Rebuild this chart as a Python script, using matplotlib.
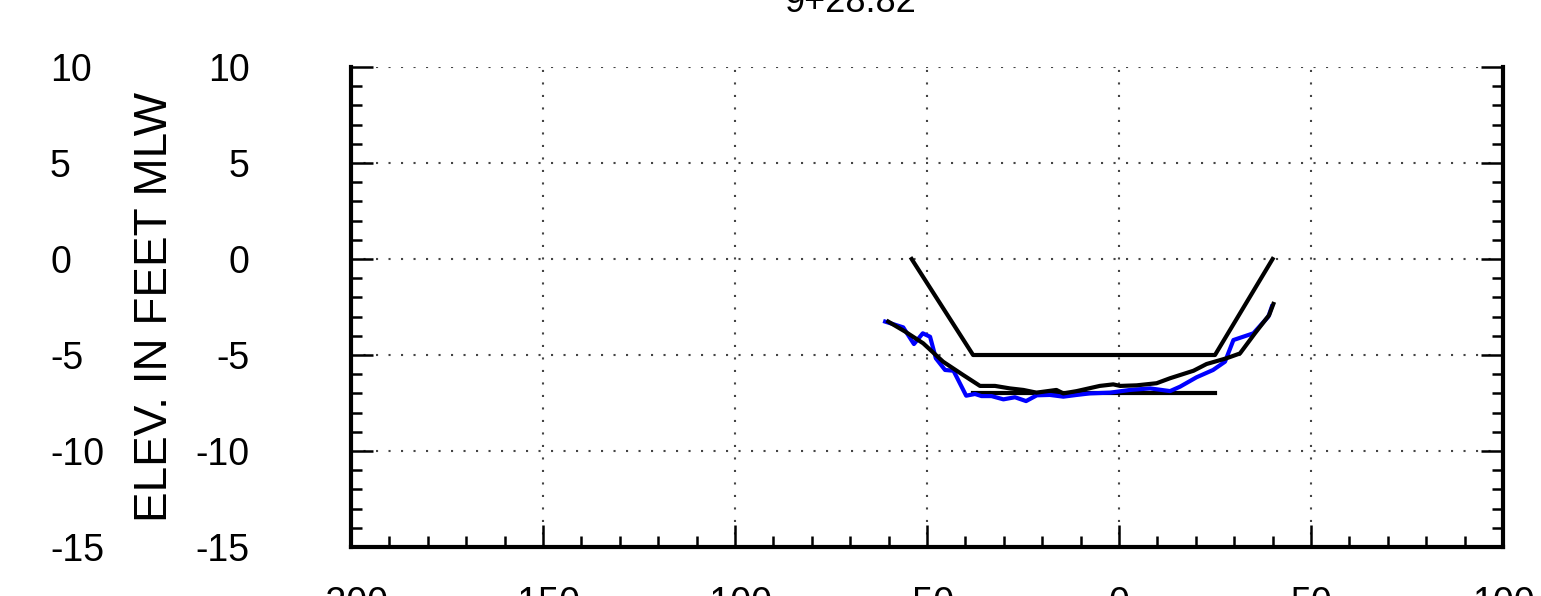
import matplotlib.pyplot as plt
from matplotlib.ticker import MultipleLocator
from matplotlib.transforms import blended_transform_factory

plt.rcParams['font.family'] = ['Liberation Sans', 'DejaVu Sans']
plt.rcParams['axes.unicode_minus'] = False

station = "9+28.82"

# design template and overdepth
template_x = [-54, -38, 25, 40]
template_y = [0, -5, -5, 0]
overdepth_x = [-38, 25]
overdepth_y = [-7, -7]

# blue survey
blue_x = [-60.9, -56.2, -53.4, -51.1, -49.2, -47.7, -45.3, -43.1, -39.8, -37.5,
          -35.8, -33.2, -30.1, -27.1, -24.2, -21.4, -18.0, -14.5, -11.0, -7.6,
          -2.3, 2.9, 8.1, 13.3, 15.9, 20.2, 24.5, 27.6, 29.8, 35.0, 38.9, 39.8]
blue_y = [-3.26, -3.56, -4.43, -3.87, -4.05, -5.17, -5.78, -5.82, -7.12, -7.03,
          -7.14, -7.14, -7.31, -7.2, -7.4, -7.1, -7.08, -7.17, -7.08, -7.0,
          -6.96, -6.82, -6.74, -6.88, -6.65, -6.16, -5.78, -5.35, -4.22, -3.87, -3.0, -2.48]

# black survey
black_x = [-60.1, -55.7, -51.0, -45.8, -40.6, -36.2, -32.3, -28.4, -24.9, -21.5,
           -16.3, -14.5, -11.0, -5.0, -1.5, 0.3, 4.6, 9.8, 13.3, 19.4,
           22.8, 28.0, 31.5, 35.4, 39.1, 40.2]
black_y = [-3.26, -3.78, -4.39, -5.35, -6.04, -6.61, -6.61, -6.74, -6.82, -6.96,
           -6.82, -7.0, -6.88, -6.61, -6.53, -6.61, -6.58, -6.47, -6.21, -5.82,
           -5.47, -5.17, -4.92, -3.87, -2.92, -2.34]

W, H = 1541, 596
fig = plt.figure(figsize=(W / 100, H / 100), dpi=100)
ax = fig.add_axes([351 / W, 1 - 547 / H, (1503 - 351) / W, (547 - 67) / H])

ax.plot(template_x, template_y, color='black', lw=3, zorder=3)
ax.plot(overdepth_x, overdepth_y, color='black', lw=3, zorder=3)
ax.plot(blue_x, blue_y, color='#0000ff', lw=3, zorder=3)
ax.plot(black_x, black_y, color='black', lw=3, zorder=4)

ax.set_xlim(-200, 100)
ax.set_ylim(-15, 10)
ax.xaxis.set_major_locator(MultipleLocator(50))
ax.xaxis.set_minor_locator(MultipleLocator(10))
ax.yaxis.set_major_locator(MultipleLocator(5))
ax.yaxis.set_minor_locator(MultipleLocator(1))

ax.grid(True, which='major', color='#444444', linestyle=(0, (1, 5)), lw=1.5)
ax.spines['top'].set_visible(False)
for s in ['left', 'right', 'bottom']:
    ax.spines[s].set_linewidth(3)

ax.tick_params(which='both', direction='in', left=True, right=True, top=False,
               bottom=True, width=1.8, labelsize=27)
ax.tick_params(which='major', length=16)
ax.tick_params(which='minor', length=8)
ax.tick_params(axis='x', which='major', pad=28)
ax.tick_params(axis='y', which='major', pad=73)

# second column of elevation labels, left aligned
trans = blended_transform_factory(fig.transFigure, ax.transData)
for v in range(-15, 11, 5):
    ax.text(50 / W, v, str(v), transform=trans,
            ha='left', va='center_baseline', fontsize=27)

fig.text(155 / W, 1 - 307 / H, "ELEV. IN FEET MLW", rotation=90,
         ha='center', va='center', fontsize=33)
fig.text(850 / W, 1 - 12 / H, station, ha='center', va='baseline', fontsize=26)

fig.savefig('out.png', dpi=100)
